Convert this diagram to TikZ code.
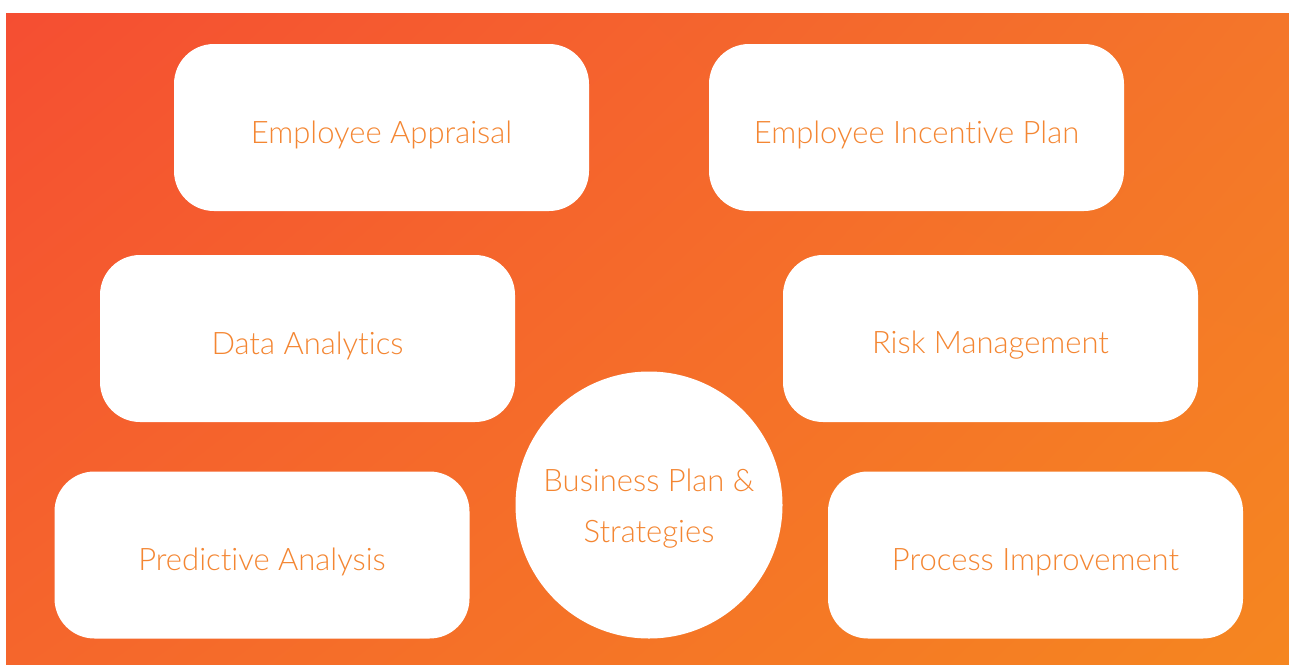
\documentclass[tikz,border=0pt]{standalone}
\usepackage{fontspec}
\setmainfont{Lato}[UprightFont=* Light,Ligatures=NoCommon]
\usetikzlibrary{shadings}
\definecolor{bgA}{RGB}{245,78,50}
\definecolor{bgB}{RGB}{244,118,42}
\definecolor{bgC}{RGB}{245,102,44}
\definecolor{bgD}{RGB}{245,134,32}
\definecolor{txt}{RGB}{244,134,50}
\begin{document}
\begin{tikzpicture}[x=1pt,y=-1pt,
  card/.style={fill=white,draw=none,rounded corners=40pt,minimum width=415pt,minimum height=167pt,inner sep=0pt},
  lbl/.style={text=txt,font=\fontsize{31}{51}\selectfont,align=center},
  hub/.style={circle,fill=white,draw=none,minimum size=267pt,inner sep=0pt}]
  \useasboundingbox (0,0) rectangle (1289,664);
  % gradient backdrop
  \shade[upper left=bgA,upper right=bgB,lower left=bgC,lower right=bgD] (6,13) rectangle (1289,664);
  % cards
  \node[card] (ea) at (381.5,127.5) {};
  \node[card] (eip) at (916.5,127.5) {};
  \node[card] (da) at (307.5,338.5) {};
  \node[card] (rm) at (990.5,338.5) {};
  \node[card] (pa) at (262,555) {};
  \node[card] (pi) at (1035.5,555) {};
  \node[hub] (bp) at (649,505) {};
  % labels
  \node[lbl] at ([yshift=-7pt]ea.center) {Employee Appraisal};
  \node[lbl] at ([yshift=-7pt]eip.center) {Employee Incentive Plan};
  \node[lbl] at ([yshift=-7pt]da.center) {Data Analytics};
  \node[lbl] at ([yshift=-7pt]rm.center) {Risk Management};
  \node[lbl] at ([yshift=-7pt]pa.center) {Predictive Analysis};
  \node[lbl] at ([yshift=-7pt]pi.center) {Process Improvement};
  \node[lbl] at ([yshift=-4pt]bp.center) {Business Plan \&\\Strategies};
\end{tikzpicture}
\end{document}
